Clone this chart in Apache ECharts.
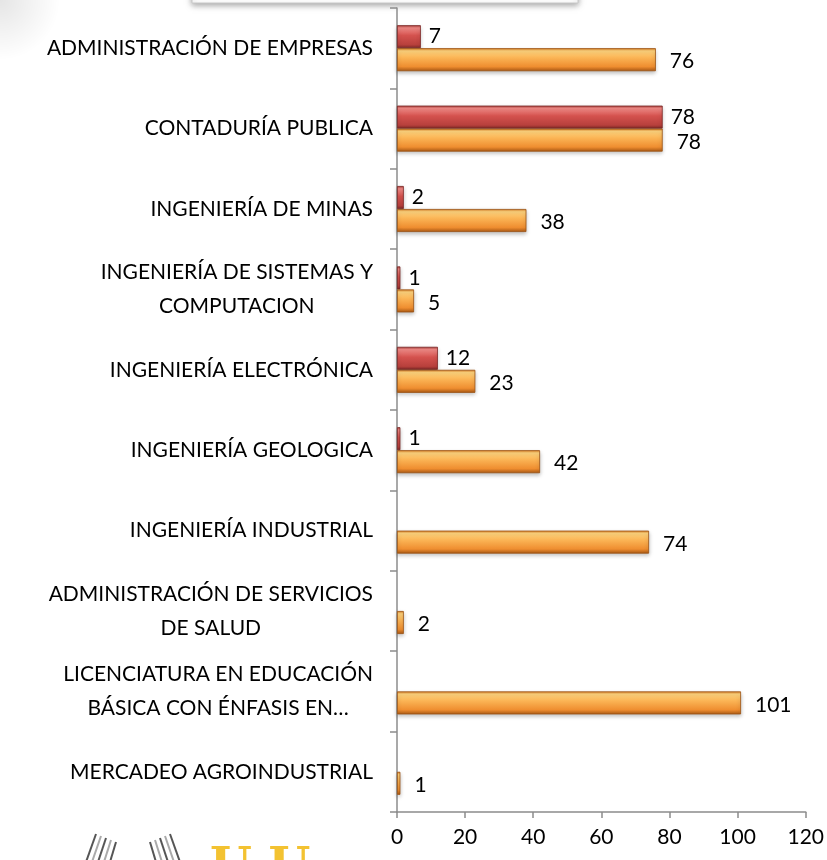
<!DOCTYPE html>
<html>
<head>
<meta charset="utf-8">
<script src="https://cdn.jsdelivr.net/npm/echarts@6/dist/echarts.min.js"></script>
<style>
  html, body { margin: 0; padding: 0; background: #fff; }
  #chart { width: 827px; height: 860px; }
</style>
</head>
<body>
<div id="chart"></div>
<script>
  // categories top to bottom
  const programas = [
    'ADMINISTRACIÓN DE EMPRESAS',
    'CONTADURÍA PUBLICA',
    'INGENIERÍA DE MINAS',
    'INGENIERÍA DE SISTEMAS Y\nCOMPUTACION',
    'INGENIERÍA ELECTRÓNICA',
    'INGENIERÍA GEOLOGICA',
    'INGENIERÍA INDUSTRIAL',
    'ADMINISTRACIÓN DE SERVICIOS\nDE SALUD',
    'LICENCIATURA EN EDUCACIÓN\nBÁSICA CON ÉNFASIS EN…',
    'MERCADEO AGROINDUSTRIAL',
  ];
  const serieRoja = [7, 78, 2, 1, 12, 1, null, null, null, null];
  const serieNaranja = [76, 78, 38, 5, 23, 42, 74, 2, 101, 1];
  const ejeX = { min: 0, max: 120, interval: 20 };

  const font = 'Lato, "Open Sans", "Noto Sans", sans-serif';

  const chart = echarts.init(document.getElementById('chart'));

  const rojo = new echarts.graphic.LinearGradient(0, 0, 0, 1, [
    { offset: 0, color: '#a83a36' },
    { offset: 0.12, color: '#f08a86' },
    { offset: 0.45, color: '#d4524e' },
    { offset: 0.85, color: '#b8403c' },
    { offset: 1, color: '#7e2a27' },
  ]);
  const naranja = new echarts.graphic.LinearGradient(0, 0, 0, 1, [
    { offset: 0, color: '#d77a22' },
    { offset: 0.12, color: '#fdd27c' },
    { offset: 0.4, color: '#fbb556' },
    { offset: 0.8, color: '#ef8e30' },
    { offset: 1, color: '#a95814' },
  ]);

  const etiqueta = {
    show: true,
    position: 'right',
    distance: 8,
    fontFamily: font,
    fontSize: 21,
    color: '#000',
  };

  // logo decoration (wings)
  const alas = [];
  for (let i = 0; i < 5; i++) {
    alas.push({ type: 'line', shape: { x1: 86 + i * 6, y1: 862, x2: 96 + i * 5, y2: 834 + i * 2 }, style: { stroke: i % 2 ? '#aaa' : '#555', lineWidth: 2 } });
    alas.push({ type: 'line', shape: { x1: 180 - i * 6, y1: 862, x2: 170 - i * 5, y2: 834 + i * 2 }, style: { stroke: i % 2 ? '#aaa' : '#555', lineWidth: 2 } });
  }

  chart.setOption({
    animation: false,
    grid: { left: 397, right: 19, top: 8, bottom: 48 },
    xAxis: {
      type: 'value',
      min: ejeX.min,
      max: ejeX.max,
      interval: ejeX.interval,
      axisLine: { show: true, lineStyle: { color: '#8c8c8c', width: 1.5 } },
      axisTick: { show: true, length: 6, lineStyle: { color: '#8c8c8c', width: 1.5 } },
      splitLine: { show: false },
      axisLabel: { margin: 15, fontFamily: font, fontSize: 21, color: '#000' },
    },
    yAxis: {
      type: 'category',
      inverse: true,
      data: programas,
      axisLine: { show: true, lineStyle: { color: '#8c8c8c', width: 1.5 } },
      axisTick: { show: true, length: 7, lineStyle: { color: '#8c8c8c', width: 1.5 } },
      axisLabel: {
        margin: 24,
        fontFamily: font,
        fontSize: 21,
        color: '#000',
        formatter: (v) => v.split('\n').map((l) => '{c|' + l + '}').join('\n'),
        rich: { c: { align: 'center', fontFamily: font, fontSize: 21, color: '#000', lineHeight: 34 } },
      },
    },
    series: [
      {
        name: 'Rojo',
        type: 'bar',
        data: serieRoja,
        barWidth: 23,
        barGap: '0%',
        itemStyle: {
          color: rojo,
          borderColor: '#7a2624',
          borderWidth: 0.8,
          shadowColor: 'rgba(0,0,0,0.25)',
          shadowBlur: 4,
          shadowOffsetY: 2,
        },
        label: etiqueta,
      },
      {
        name: 'Naranja',
        type: 'bar',
        data: serieNaranja,
        barWidth: 23,
        barGap: '0%',
        itemStyle: {
          color: naranja,
          borderColor: '#9a5212',
          borderWidth: 0.8,
          shadowColor: 'rgba(0,0,0,0.25)',
          shadowBlur: 4,
          shadowOffsetY: 2,
        },
        label: Object.assign({}, etiqueta, { distance: 14, offset: [0, 2] }),
      },
    ],
    graphic: [
      {
        type: 'rect',
        shape: { x: 0, y: 0, width: 60, height: 60 },
        style: {
          fill: new echarts.graphic.RadialGradient(0, 0, 1, [
            { offset: 0, color: 'rgba(0,0,0,0.1)' },
            { offset: 1, color: 'rgba(0,0,0,0)' },
          ]),
        },
        silent: true,
      },
      {
        type: 'rect',
        shape: { x: 192, y: -30, width: 386, height: 33 },
        style: { fill: '#fff', stroke: '#c8c8c8', lineWidth: 1, shadowColor: 'rgba(0,0,0,0.35)', shadowBlur: 6, shadowOffsetY: 2 },
      },
      {
        type: 'text',
        left: 210,
        top: 846,
        style: { text: 'U U', fontFamily: '"DejaVu Serif", serif', fontWeight: 'bold', fontSize: 48, fill: '#f3c231' },
      },
    ].concat(alas),
  });
</script>
</body>
</html>
